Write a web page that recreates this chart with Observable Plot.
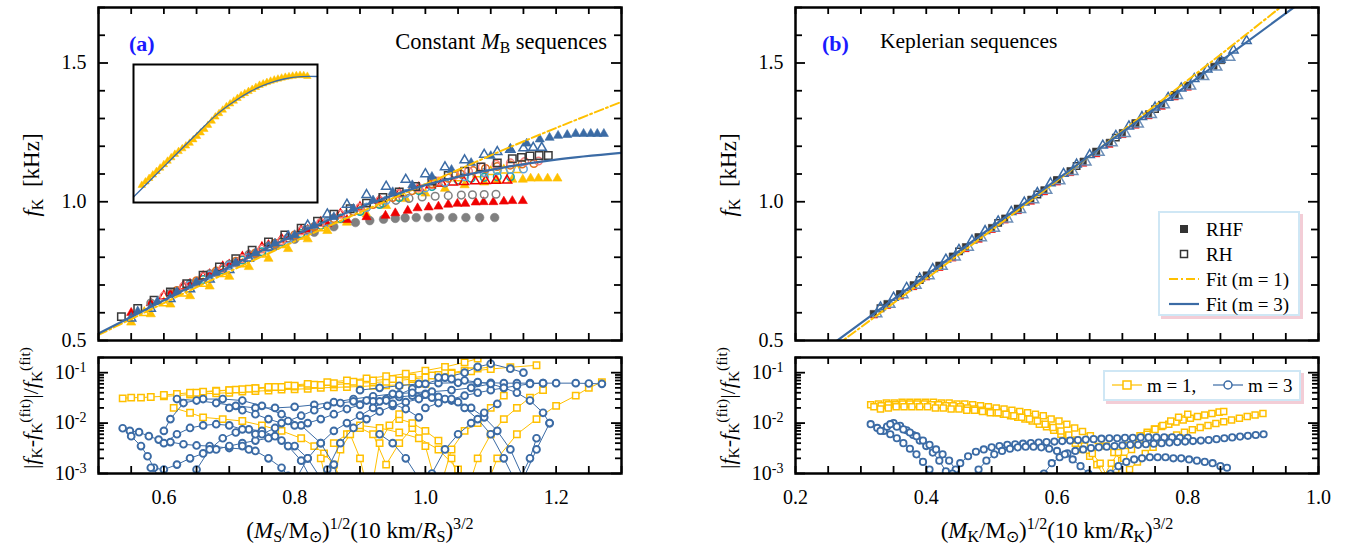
<!DOCTYPE html>
<html><head><meta charset="utf-8">
<script src="https://cdn.jsdelivr.net/npm/d3@7"></script>
<script src="https://cdn.jsdelivr.net/npm/@observablehq/plot@0.6"></script>
<style>
body{margin:0;background:#fff;}
#wrap{position:relative;width:1364px;height:550px;overflow:hidden;font-family:"Liberation Serif","Times New Roman",serif;color:#000;background:#fff;}
#wrap svg{position:absolute;left:0;top:0;}
.t{position:absolute;white-space:nowrap;line-height:1;font-size:22px;}
.rot{transform:translate(-50%,-50%) rotate(-90deg);}
.ctr{transform:translate(-50%,-50%);}
sub{font-size:0.7em;vertical-align:-0.28em;line-height:0;}
sup{font-size:0.7em;vertical-align:0.5em;line-height:0;}
.lab{font-weight:bold;color:#1a1aff;font-size:22px;}
.legend{position:absolute;border:2px solid #cfe7f5;box-shadow:3px 3px 0 #f3cdd6;background:#fff;}
.legend .it{position:absolute;white-space:nowrap;font-size:19px;line-height:1;}
</style></head>
<body><div id="wrap">
<div class="t lab" style="left:129px;top:33px;">(a)</div>
<div class="t" style="right:757px;top:31px;font-size:22.5px;">Constant <i>M</i><sub>B</sub> sequences</div>
<div class="t lab" style="left:822px;top:33px;">(b)</div>
<div class="t" style="left:880px;top:31px;font-size:21.5px;">Keplerian sequences</div>
<div class="t rot" style="left:31px;top:175px;font-size:23px;"><i>f</i><sub>K</sub>&nbsp; [kHz]</div>
<div class="t rot" style="left:728px;top:175px;font-size:23px;"><i>f</i><sub>K</sub>&nbsp; [kHz]</div>
<div class="t rot" style="left:31px;top:408px;font-size:22px;">|<i>f</i><sub>K</sub>-<i>f</i><sub>K</sub><sup>(fit)</sup>|/<i>f</i><sub>K</sub><sup>(fit)</sup></div>
<div class="t rot" style="left:728px;top:408px;font-size:22px;">|<i>f</i><sub>K</sub>-<i>f</i><sub>K</sub><sup>(fit)</sup>|/<i>f</i><sub>K</sub><sup>(fit)</sup></div>
<div class="t ctr" style="left:360px;top:530px;font-size:23px;">(<i>M</i><sub>S</sub>/M<sub>⊙</sub>)<sup>1/2</sup>(10 km/<i>R</i><sub>S</sub>)<sup>3/2</sup></div>
<div class="t ctr" style="left:1057px;top:530px;font-size:23px;">(<i>M</i><sub>K</sub>/M<sub>⊙</sub>)<sup>1/2</sup>(10 km/<i>R</i><sub>K</sub>)<sup>3/2</sup></div>
</div>
<script>
// ---------------- DATA ----------------
// Panel (a): constant baryon-mass sequences
const aBlueTriFilledX=[0.56,0.59,0.62,0.65,0.68,0.71,0.74,0.77,0.80,0.83,0.86,0.89,0.92,0.95,0.98,1.01,1.04,1.07,1.10,1.13,1.155,1.175,1.19,1.203,1.217,1.230,1.242,1.253,1.263,1.273];
const aBlueTriFilledY=[0.605,0.64,0.675,0.71,0.745,0.78,0.815,0.85,0.88,0.915,0.945,0.975,1.005,1.035,1.06,1.09,1.115,1.14,1.165,1.19,1.21,1.225,1.231,1.238,1.241,1.245,1.245,1.245,1.245,1.245];
const aBlueTriOpenX=[0.55,0.58,0.61,0.64,0.67,0.70,0.73,0.76,0.79,0.82,0.85,0.88,0.91,0.94,0.97,1.00,1.03,1.06,1.09,1.11,1.13,1.15,1.165,1.178];
const aBlueTriOpenY=[0.58,0.615,0.65,0.685,0.72,0.755,0.795,0.835,0.875,0.915,0.955,0.99,1.025,1.055,1.08,1.10,1.125,1.15,1.17,1.18,1.188,1.193,1.195,1.195];
const aBlackSqX=[0.535,0.56,0.585,0.61,0.635,0.66,0.685,0.71,0.735,0.76,0.785,0.81,0.835,0.86,0.885,0.91,0.935,0.96,0.985,1.01,1.035,1.06,1.085,1.11,1.133,1.147,1.16,1.174,1.188];
const aBlackSqY=[0.586,0.615,0.645,0.675,0.705,0.735,0.765,0.795,0.825,0.855,0.88,0.905,0.93,0.955,0.975,0.995,1.015,1.035,1.055,1.075,1.095,1.11,1.125,1.14,1.155,1.16,1.165,1.167,1.167];
const aSalmonX=[0.60,0.63,0.66,0.69,0.72,0.75,0.78,0.81,0.84,0.87,0.90,0.93,0.96,0.99,1.02,1.045,1.066,1.087,1.108,1.13,1.152,1.173];
const aSalmonY=[0.66,0.695,0.73,0.76,0.795,0.83,0.86,0.895,0.925,0.955,0.98,1.005,1.03,1.05,1.075,1.095,1.11,1.125,1.135,1.14,1.145,1.147];
const aOrangeX=[0.62,0.65,0.68,0.71,0.74,0.77,0.80,0.83,0.86,0.89,0.92,0.95,0.98,1.01,1.035,1.054,1.073,1.092,1.11,1.13,1.148,1.166];
const aOrangeY=[0.68,0.715,0.75,0.785,0.815,0.85,0.88,0.91,0.94,0.965,0.99,1.015,1.04,1.065,1.085,1.1,1.112,1.12,1.127,1.132,1.136,1.138];
const aLightBlueX=[0.64,0.67,0.70,0.73,0.76,0.79,0.82,0.85,0.88,0.91,0.94,0.97,1.00,1.03,1.06,1.09,1.11,1.13,1.15];
const aLightBlueY=[0.70,0.735,0.77,0.80,0.835,0.865,0.895,0.925,0.955,0.98,1.005,1.03,1.05,1.07,1.09,1.105,1.112,1.116,1.118];
const aYellowTriOpenX=[0.57,0.60,0.63,0.66,0.69,0.72,0.75,0.78,0.81,0.84,0.87,0.90,0.93,0.96,0.99,1.02,1.05,1.08,1.10,1.12,1.14];
const aYellowTriOpenY=[0.6,0.635,0.67,0.705,0.74,0.775,0.81,0.845,0.875,0.905,0.935,0.965,0.99,1.015,1.04,1.065,1.085,1.1,1.108,1.113,1.115];
const aTealX=[0.66,0.69,0.72,0.75,0.78,0.81,0.84,0.87,0.90,0.93,0.96,0.99,1.01,1.03,1.05,1.07,1.09,1.11,1.13];
const aTealY=[0.72,0.755,0.79,0.82,0.855,0.885,0.915,0.94,0.965,0.99,1.015,1.04,1.055,1.068,1.078,1.085,1.088,1.09,1.09];
const aYellowTriFilledX=[0.55,0.58,0.61,0.64,0.67,0.70,0.73,0.76,0.79,0.82,0.85,0.88,0.91,0.94,0.97,1.00,1.03,1.06,1.09,1.11,1.133,1.149,1.161,1.173,1.187,1.202];
const aYellowTriFilledY=[0.565,0.595,0.63,0.66,0.695,0.73,0.765,0.795,0.83,0.865,0.895,0.925,0.955,0.985,1.01,1.03,1.047,1.06,1.07,1.076,1.08,1.08,1.084,1.084,1.084,1.084];
const aRedTriOpenX=[0.60,0.63,0.66,0.69,0.72,0.75,0.78,0.81,0.84,0.87,0.90,0.93,0.96,0.99,1.008,1.025,1.042,1.059,1.076,1.092,1.108,1.125];
const aRedTriOpenY=[0.66,0.695,0.73,0.765,0.8,0.835,0.865,0.895,0.925,0.955,0.98,1.005,1.03,1.05,1.06,1.066,1.07,1.072,1.074,1.075,1.076,1.077];
const aGrayCircOpenX=[0.58,0.61,0.64,0.67,0.70,0.73,0.76,0.79,0.82,0.85,0.88,0.91,0.935,0.955,0.975,0.995,1.015,1.035,1.055,1.072,1.09,1.108];
const aGrayCircOpenY=[0.635,0.67,0.705,0.74,0.775,0.81,0.84,0.87,0.9,0.93,0.955,0.98,0.995,1.005,1.012,1.017,1.02,1.022,1.024,1.025,1.026,1.027];
const aRedTriFilledX=[0.55,0.58,0.61,0.64,0.67,0.70,0.73,0.76,0.79,0.82,0.85,0.88,0.91,0.939,0.954,0.973,0.988,1.005,1.020,1.035,1.049,1.061,1.077,1.089,1.104,1.120,1.133,1.149];
const aRedTriFilledY=[0.6,0.635,0.67,0.705,0.74,0.775,0.81,0.845,0.875,0.9,0.92,0.935,0.945,0.950,0.959,0.968,0.977,0.980,0.983,0.990,0.993,0.993,0.998,0.999,0.999,1.001,1.003,1.003];
const aGrayCircFilledX=[0.62,0.65,0.68,0.71,0.74,0.77,0.80,0.83,0.86,0.893,0.915,0.936,0.954,0.969,0.986,1.004,1.022,1.042,1.062,1.083,1.106];
const aGrayCircFilledY=[0.675,0.71,0.745,0.78,0.81,0.84,0.865,0.89,0.91,0.925,0.932,0.937,0.94,0.942,0.943,0.943,0.943,0.943,0.943,0.943,0.943];
// Fits, panel (a)
const aFit3X=[0.5,0.6,0.7,0.8,0.9,1.0,1.1,1.2,1.3];
const aFit3Y=[0.525,0.645,0.765,0.88,0.98,1.06,1.115,1.152,1.176];
const aFit1X=[0.5,0.6,0.7,0.8,0.9,1.0,1.1,1.2,1.3];
const aFit1Y=[0.52,0.635,0.748,0.857,0.962,1.063,1.167,1.266,1.36];
// Inset (normalised units)
const insetLineU=[0,0.09,0.18,0.27,0.36,0.45,0.545,0.636,0.727,0.818,0.91,1.0];
const insetLineV=[0.04,0.16,0.28,0.40,0.52,0.635,0.73,0.805,0.86,0.895,0.912,0.913];
const insetTriU=[0.045,0.065,0.085,0.105,0.125,0.145,0.165,0.185,0.205,0.225,0.245,0.265,0.285,0.305,0.325,0.345,0.365,0.385,0.405,0.425,0.445,0.465,0.485,0.505,0.525,0.545,0.565,0.585,0.605,0.625,0.645,0.665,0.685,0.705,0.725,0.745,0.765,0.785,0.805,0.825,0.845,0.865,0.885,0.905,0.925,0.945];
const insetTriV=[0.125,0.15,0.175,0.2,0.225,0.25,0.275,0.3,0.325,0.35,0.37,0.39,0.41,0.43,0.455,0.48,0.505,0.53,0.56,0.59,0.62,0.645,0.67,0.695,0.715,0.735,0.755,0.775,0.79,0.805,0.82,0.835,0.85,0.86,0.87,0.88,0.888,0.895,0.902,0.908,0.912,0.916,0.92,0.922,0.92,0.915];
// Residuals (a), m = 1
const rA1_1X=[0.537,0.55,0.565,0.58,0.6,0.62,0.64,0.66,0.68,0.70,0.72,0.74,0.76,0.78,0.80,0.82,0.84,0.86,0.88,0.90,0.92,0.94,0.96,0.98,1.0];
const rA1_1Y=[0.031,0.032,0.032,0.033,0.034,0.035,0.037,0.038,0.039,0.04,0.042,0.043,0.044,0.046,0.047,0.048,0.05,0.051,0.052,0.053,0.055,0.056,0.057,0.058,0.06];
const rA1_2X=[0.6,0.62,0.64,0.66,0.68,0.70,0.72,0.74,0.76,0.78,0.80,0.82,0.84,0.86,0.88,0.90,0.92,0.94,0.96,0.98,1.0,1.02,1.04,1.06,1.08,1.1];
const rA1_2Y=[0.036,0.038,0.04,0.042,0.044,0.045,0.047,0.049,0.05,0.052,0.053,0.055,0.057,0.058,0.06,0.062,0.064,0.066,0.07,0.075,0.08,0.09,0.1,0.11,0.12,0.13];
const rA1_3X=[0.65,0.68,0.71,0.74,0.77,0.80,0.83,0.86,0.89,0.92,0.95,0.98,1.01,1.04,1.07,1.10,1.13,1.17];
const rA1_3Y=[0.04,0.043,0.046,0.049,0.052,0.055,0.058,0.062,0.066,0.07,0.075,0.08,0.088,0.097,0.107,0.118,0.128,0.14];
const rA1_4X=[0.70,0.73,0.76,0.79,0.82,0.85,0.88,0.91,0.94,0.97,1.0,1.03,1.06,1.08];
const rA1_4Y=[0.045,0.048,0.052,0.056,0.06,0.065,0.07,0.077,0.085,0.095,0.11,0.13,0.16,0.19];
const rA1_5X=[0.615,0.64,0.66,0.69,0.72,0.75,0.78,0.81,0.83,0.845,0.86,0.875];
const rA1_5Y=[0.02,0.016,0.013,0.012,0.011,0.009,0.007,0.005,0.0035,0.0025,0.0015,0.0006];
const rA1_6X=[0.86,0.88,0.9,0.92,0.94,0.96,0.98,1.0,1.02,1.04,1.06,1.08,1.1,1.12];
const rA1_6Y=[0.004,0.006,0.008,0.006,0.0015,0.004,0.008,0.0035,0.0004,0.003,0.007,0.01,0.02,0.035];
const rA1_7X=[0.9,0.93,0.96,0.99,1.02,1.05,1.08,1.11,1.14,1.17,1.2,1.23,1.25,1.27];
const rA1_7Y=[0.009,0.008,0.0065,0.005,0.003,0.0012,0.0002,0.002,0.006,0.012,0.022,0.035,0.05,0.065];
const rA1_8X=[0.96,0.98,1.0,1.02,1.04,1.06,1.08,1.1,1.12,1.14,1.16,1.18];
const rA1_8Y=[0.012,0.01,0.007,0.0045,0.002,0.0003,0.002,0.006,0.012,0.02,0.032,0.045];
const rA1_9X=[0.84,0.855,0.87,0.885,0.9,0.915,0.93,0.945,0.96];
const rA1_9Y=[0.002,0.0003,0.003,0.006,0.002,0.0003,0.004,0.009,0.015];
// Residuals (a), m = 3
const rA3_1X=[0.537,0.548,0.562,0.577,0.592,0.61,0.63,0.65,0.67,0.70,0.73];
const rA3_1Y=[0.0079,0.007,0.0066,0.0055,0.0047,0.0042,0.0038,0.0036,0.0035,0.0032,0.003];
const rA3_2X=[0.55,0.565,0.575,0.585,0.595];
const rA3_2Y=[0.0055,0.0035,0.0022,0.0013,0.0006];
const rA3_3X=[0.58,0.6,0.62,0.64,0.66,0.68,0.7,0.72,0.74,0.76,0.78,0.8,0.82,0.84];
const rA3_3Y=[0.0013,0.0012,0.0015,0.002,0.0025,0.003,0.0035,0.004,0.0045,0.005,0.0045,0.0035,0.002,0.0008];
const rA3_4X=[0.6,0.61,0.63,0.66,0.69,0.72,0.75,0.78,0.81,0.84,0.86,0.87];
const rA3_4Y=[0.007,0.012,0.025,0.03,0.03,0.028,0.022,0.015,0.009,0.004,0.0015,0.0005];
const rA3_5X=[0.62,0.65,0.68,0.71,0.74,0.77,0.80,0.83,0.86,0.89,0.92,0.95,0.98,1.01,1.04,1.07,1.1];
const rA3_5Y=[0.03,0.028,0.025,0.022,0.02,0.02,0.021,0.023,0.026,0.03,0.034,0.038,0.04,0.042,0.045,0.05,0.06];
const rA3_6X=[0.65,0.67,0.69,0.71,0.73,0.75,0.77,0.79,0.81,0.83];
const rA3_6Y=[0.0012,0.003,0.005,0.0065,0.0075,0.007,0.0055,0.0035,0.0018,0.0006];
const rA3_7X=[0.7,0.72,0.74,0.76,0.78,0.8,0.82,0.84,0.86,0.88,0.9,0.92,0.94,0.96,0.98,1.0];
const rA3_7Y=[0.02,0.018,0.015,0.012,0.01,0.009,0.01,0.012,0.015,0.019,0.023,0.027,0.03,0.033,0.035,0.038];
const rA3_8X=[0.8,0.82,0.84,0.86,0.88,0.9,0.92,0.94,0.96,0.98,1.0,1.03,1.06,1.08,1.1,1.13,1.15];
const rA3_8Y=[0.0007,0.002,0.004,0.007,0.01,0.014,0.02,0.028,0.037,0.048,0.06,0.08,0.1,0.13,0.15,0.12,0.1];
const rA3_9X=[0.85,0.87,0.89,0.91,0.93,0.95,0.97,0.99,1.01,1.03,1.05,1.07,1.09,1.11,1.13,1.15,1.17,1.19];
const rA3_9Y=[0.0012,0.004,0.008,0.012,0.017,0.022,0.026,0.03,0.032,0.03,0.026,0.02,0.013,0.007,0.003,0.0008,0.003,0.01];
const rA3_10X=[0.9,0.93,0.96,0.99,1.02,1.05,1.08,1.1,1.12,1.14,1.16,1.18,1.2,1.23,1.25,1.27];
const rA3_10Y=[0.045,0.05,0.055,0.06,0.062,0.063,0.063,0.063,0.062,0.062,0.062,0.062,0.062,0.062,0.061,0.06];
const rA3_11X=[0.93,0.95,0.97,0.99,1.0,1.01,1.03,1.05,1.07,1.09,1.11];
const rA3_11Y=[0.006,0.004,0.002,0.0008,0.0003,0.001,0.003,0.006,0.01,0.016,0.024];
const rA3_12X=[0.98,1.0,1.02,1.04,1.06,1.08,1.1,1.12,1.14,1.16,1.17];
const rA3_12Y=[0.04,0.037,0.033,0.028,0.02,0.012,0.006,0.002,0.0006,0.002,0.005];
const rA3_13X=[0.72,0.74,0.76,0.78,0.79,0.8,0.81];
const rA3_13Y=[0.0035,0.0028,0.002,0.0013,0.0009,0.0005,0.0003];
const rA3_14X=[1.0,1.02,1.04,1.06,1.08,1.1,1.12,1.14,1.16,1.18];
const rA3_14Y=[0.02,0.025,0.03,0.035,0.04,0.045,0.05,0.055,0.06,0.062];
const rA3_15X=[0.6,0.62,0.64,0.66,0.68,0.7,0.72,0.74];
const rA3_15Y=[0.004,0.006,0.008,0.009,0.0095,0.009,0.0075,0.006];
const rA3_16X=[0.75,0.77,0.79,0.81,0.83,0.85,0.87,0.89,0.91,0.93,0.95,0.97,0.99];
const rA3_16Y=[0.006,0.008,0.011,0.014,0.018,0.022,0.025,0.027,0.028,0.027,0.024,0.019,0.013];
const rA3_17X=[1.02,1.04,1.06,1.08,1.1,1.12,1.14,1.16,1.18,1.19];
const rA3_17Y=[0.08,0.075,0.07,0.065,0.06,0.05,0.04,0.028,0.016,0.01];
// Panel (b): Keplerian sequences
const bRHFX=[0.319,0.34,0.36,0.38,0.40,0.42,0.44,0.46,0.48,0.50,0.52,0.54,0.56,0.58,0.60,0.62,0.64,0.66,0.68,0.70,0.72,0.74,0.76,0.78,0.80,0.82,0.84,0.852];
const bRHFY=[0.597,0.633,0.667,0.701,0.736,0.77,0.804,0.838,0.872,0.907,0.941,0.975,1.009,1.043,1.078,1.112,1.146,1.18,1.214,1.249,1.283,1.317,1.351,1.385,1.42,1.454,1.488,1.509];
const bRHX=[0.33,0.36,0.39,0.42,0.45,0.48,0.51,0.54,0.57,0.60,0.63,0.66,0.69,0.72,0.75,0.78];
const bRHY=[0.616,0.667,0.718,0.77,0.821,0.872,0.924,0.975,1.026,1.078,1.129,1.18,1.231,1.283,1.334,1.385];
const bBlueTriX=[0.33,0.35,0.37,0.39,0.41,0.43,0.45,0.47,0.49,0.51,0.53,0.55,0.57,0.59,0.61,0.63,0.65,0.67,0.69,0.71,0.73,0.75,0.77,0.79,0.81,0.83,0.85,0.87,0.89];
const bBlueTriY=[0.62,0.655,0.69,0.724,0.758,0.792,0.827,0.861,0.895,0.93,0.964,0.998,1.032,1.067,1.101,1.135,1.169,1.203,1.238,1.272,1.306,1.34,1.375,1.409,1.443,1.477,1.512,1.546,1.58];
const bSteelTriX=[0.325,0.345,0.365,0.385,0.405,0.425,0.445,0.465,0.485,0.505,0.525,0.545,0.565,0.585,0.605,0.625,0.645,0.665,0.685,0.705,0.725,0.745,0.765,0.785,0.805,0.825,0.845,0.865];
const bSteelTriY=[0.595,0.629,0.664,0.698,0.732,0.766,0.8,0.835,0.869,0.903,0.937,0.971,1.006,1.04,1.074,1.108,1.142,1.177,1.211,1.245,1.279,1.313,1.348,1.382,1.416,1.45,1.484,1.519];
const bRedX=[0.32,0.34,0.36,0.38,0.40,0.42,0.44,0.46,0.48,0.50,0.52,0.54,0.56,0.58,0.60,0.62,0.64,0.66,0.68,0.70,0.72,0.74,0.76,0.78,0.80];
const bRedY=[0.589,0.623,0.657,0.691,0.726,0.76,0.794,0.828,0.862,0.897,0.931,0.965,0.999,1.033,1.068,1.102,1.136,1.17,1.204,1.239,1.273,1.307,1.341,1.375,1.41];
const bFit3X=[0.25,0.45,0.65,0.85,0.99];
const bFit3Y=[0.476,0.822,1.166,1.506,1.748];
const bFit1X=[0.26,0.45,0.65,0.85,0.96];
const bFit1Y=[0.478,0.81,1.165,1.53,1.735];
// Residuals (b)
const rB1_1X=[0.315,0.327,0.339,0.351,0.363,0.375,0.387,0.399,0.411,0.423,0.435,0.447,0.459,0.471,0.483,0.495,0.507,0.519,0.531,0.543,0.555,0.567,0.579,0.591,0.603,0.615,0.627,0.639,0.651,0.663,0.675,0.687,0.699,0.711,0.723,0.735,0.747,0.759,0.771,0.783,0.795,0.807,0.819,0.831,0.843,0.855,0.867,0.879,0.891,0.903,0.915];
const rB1_1Y=[0.023,0.024,0.025,0.025,0.026,0.026,0.026,0.026,0.026,0.025,0.025,0.024,0.024,0.023,0.022,0.021,0.02,0.019,0.018,0.017,0.016,0.015,0.014,0.012,0.011,0.0095,0.008,0.0068,0.0056,0.0045,0.0035,0.0026,0.0018,0.0012,0.0017,0.0025,0.0033,0.0042,0.005,0.0058,0.0066,0.0074,0.0082,0.009,0.0098,0.0106,0.0115,0.0125,0.0135,0.0145,0.0155];
const rB1_2X=[0.32,0.331,0.342,0.353,0.364,0.375,0.386,0.397,0.408,0.419,0.43,0.441,0.452,0.463,0.474,0.485,0.496,0.507,0.518,0.529,0.54,0.551,0.562,0.573,0.584,0.595,0.606,0.617,0.628,0.639,0.65,0.661,0.672,0.683,0.694,0.705,0.716,0.727,0.738,0.749,0.76,0.771,0.782,0.793,0.804,0.815,0.826,0.837,0.848,0.855];
const rB1_2Y=[0.021,0.022,0.023,0.023,0.024,0.024,0.024,0.024,0.023,0.023,0.022,0.022,0.021,0.02,0.019,0.018,0.017,0.016,0.015,0.014,0.013,0.012,0.011,0.0095,0.0085,0.0072,0.006,0.005,0.004,0.003,0.0022,0.0015,0.0009,0.0016,0.0026,0.0036,0.0046,0.0056,0.0066,0.0076,0.0086,0.0095,0.0105,0.0115,0.0125,0.0135,0.0145,0.0155,0.0165,0.017];
const rB1_3X=[0.33,0.342,0.354,0.366,0.378,0.39,0.402,0.414,0.426,0.438,0.45,0.462,0.474,0.486,0.498,0.51,0.522,0.534,0.546,0.558,0.57,0.582,0.594,0.606,0.618,0.63,0.642,0.654,0.666,0.678,0.69,0.702,0.714,0.726,0.738,0.75,0.762,0.774,0.786,0.8];
const rB1_3Y=[0.019,0.02,0.021,0.021,0.021,0.021,0.021,0.02,0.02,0.019,0.019,0.018,0.018,0.017,0.016,0.016,0.015,0.014,0.013,0.012,0.011,0.0095,0.0082,0.007,0.0058,0.0046,0.0035,0.0025,0.0016,0.0008,0.0012,0.002,0.003,0.0045,0.006,0.0075,0.009,0.011,0.013,0.015];
const rB3_1X=[0.315,0.325,0.335,0.345,0.355,0.365,0.375,0.385,0.395,0.405,0.415];
const rB3_1Y=[0.0095,0.008,0.007,0.006,0.005,0.004,0.0031,0.0024,0.0017,0.0012,0.0008];
const rB3_2X=[0.33,0.34,0.35,0.36,0.37,0.38,0.39,0.4,0.41,0.42,0.43];
const rB3_2Y=[0.007,0.0085,0.01,0.0088,0.0072,0.0058,0.0045,0.0035,0.0026,0.0018,0.0011];
const rB3_3X=[0.345,0.355,0.365,0.375,0.385,0.395,0.405,0.415,0.425,0.435,0.445,0.455];
const rB3_3Y=[0.0095,0.0085,0.0075,0.0065,0.0055,0.0045,0.0037,0.003,0.0024,0.0018,0.0012,0.0008];
const rB3_4X=[0.44,0.452,0.464,0.476,0.488,0.5,0.512,0.524,0.536,0.548,0.56,0.572,0.584,0.596,0.608,0.62,0.632,0.644,0.656,0.668,0.68,0.692,0.704,0.716,0.728,0.74,0.752,0.764,0.776,0.788,0.8];
const rB3_4Y=[0.001,0.0016,0.0022,0.0027,0.003,0.0033,0.0035,0.0037,0.0038,0.0039,0.004,0.0041,0.0042,0.0043,0.0044,0.0045,0.0046,0.0047,0.0048,0.0049,0.005,0.005,0.0051,0.0051,0.0052,0.0052,0.0052,0.0052,0.0052,0.0051,0.0051];
const rB3_5X=[0.58,0.592,0.604,0.616,0.628,0.64,0.652,0.664,0.676,0.688,0.7,0.712,0.724,0.736,0.748,0.76,0.772,0.784,0.796,0.808,0.82,0.832,0.844,0.856,0.868,0.88,0.892,0.904,0.916];
const rB3_5Y=[0.001,0.0016,0.0021,0.0025,0.0028,0.003,0.0032,0.0033,0.0034,0.0035,0.0036,0.0037,0.0037,0.0038,0.0039,0.004,0.0041,0.0042,0.0043,0.0044,0.0045,0.0046,0.0048,0.005,0.0052,0.0054,0.0056,0.0058,0.006];
const rB3_6X=[0.67,0.682,0.694,0.706,0.718,0.73,0.742,0.754,0.766,0.778,0.79,0.802,0.814,0.826,0.838,0.85,0.86];
const rB3_6Y=[0.0006,0.001,0.0014,0.0017,0.0019,0.002,0.0021,0.0021,0.0021,0.002,0.002,0.0019,0.0018,0.0017,0.0016,0.0014,0.0013];
const rB3_7X=[0.48,0.492,0.504,0.516,0.528,0.54,0.552,0.564,0.576,0.588,0.6,0.612,0.624,0.636,0.648,0.66];
const rB3_7Y=[0.0012,0.0018,0.0024,0.0028,0.0031,0.0033,0.0034,0.0034,0.0033,0.0031,0.0028,0.0024,0.0019,0.0014,0.001,0.0006];
// Axis ticks
const xTicksA=[0.5,0.55,0.6,0.65,0.7,0.75,0.8,0.85,0.9,0.95,1.0,1.05,1.1,1.15,1.2,1.25,1.3];
const xLabelsA=[0.6,0.8,1.0,1.2];
const xTicksB=[0.2,0.25,0.3,0.35,0.4,0.45,0.5,0.55,0.6,0.65,0.7,0.75,0.8,0.85,0.9,0.95,1.0];
const xLabelsB=[0.2,0.4,0.6,0.8,1.0];
const yTicksTopMinor=[0.6,0.7,0.8,0.9,1.1,1.2,1.3,1.4,1.6,1.7];
const yTicksTopMajor=[0.5,1.0,1.5];
const yLogMajor=[0.001,0.01,0.1];
const yLogMinor=[0.002,0.003,0.004,0.005,0.006,0.007,0.008,0.009,0.02,0.03,0.04,0.05,0.06,0.07,0.08,0.09,0.2];

// ---------------- STYLE / LAYOUT ----------------
const W=1364,H=550;
const BLUE="#3b6ba5",YEL="#ffc000",RED="#f00000",GRAY="#808080",TEAL="#17a2a2",ORANGE="#e0701c",SALMON="#f47c7c",LBLUE="#5fa2dd",BLACK="#3a3a3a",STEEL="#6d8fb8";
const STYLE="background: transparent; font: 20px 'Liberation Serif', 'Times New Roman', serif; overflow: visible;";
const FR_TL=[98,621,7,340], FR_BL=[98,621,357,473], FR_TR=[795,1318,7,340], FR_BR=[795,1318,357,473], FR_IN=[133,317,64,202];

const rows=(xs,ys,id)=>xs.map((x,i)=>({x,y:ys[i],id}));

function ticks(fr,xT,yMaj,yMin,yMajLen,yMinLen){
  const fw=fr[1]-fr[0], fh=fr[3]-fr[2], s={stroke:"black",strokeWidth:1.8};
  return [
    Plot.tickX(xT,{x:d=>d,insetTop:fh-7,...s}),
    Plot.tickX(xT,{x:d=>d,insetBottom:fh-7,...s}),
    Plot.tickY(yMaj,{y:d=>d,insetRight:fw-yMajLen,...s}),
    Plot.tickY(yMaj,{y:d=>d,insetLeft:fw-yMajLen,...s}),
    Plot.tickY(yMin,{y:d=>d,insetRight:fw-yMinLen,...s}),
    Plot.tickY(yMin,{y:d=>d,insetLeft:fw-yMinLen,...s})
  ];
}
function mk(fr,xd,yd,ytype,marks){
  return Plot.plot({width:W,height:H,marginLeft:fr[0],marginRight:W-fr[1],marginTop:fr[2],marginBottom:H-fr[3],
    x:{domain:xd,axis:null,label:null},y:{domain:yd,type:ytype,axis:null,label:null},style:STYLE,marks});
}
const dot=(xs,ys,sym,col,filled,r)=>Plot.dot(rows(xs,ys),{x:"x",y:"y",symbol:sym,r,fill:filled?col:"none",stroke:col,strokeWidth:filled?0.6:1.5,clip:true});

// ---- panel (a) top
const aMarks=[
  dot(aYellowTriFilledX,aYellowTriFilledY,"triangle",YEL,true,3.4),
  dot(aYellowTriOpenX,aYellowTriOpenY,"triangle",YEL,false,3.4),
  dot(aGrayCircFilledX,aGrayCircFilledY,"circle",GRAY,true,4.3),
  dot(aRedTriFilledX,aRedTriFilledY,"triangle",RED,true,3.4),
  dot(aGrayCircOpenX,aGrayCircOpenY,"circle",GRAY,false,3.8),
  dot(aTealX,aTealY,"circle",TEAL,false,3.8),
  dot(aRedTriOpenX,aRedTriOpenY,"triangle",RED,false,3.4),
  dot(aLightBlueX,aLightBlueY,"circle",LBLUE,false,3.8),
  dot(aOrangeX,aOrangeY,"circle",ORANGE,false,3.8),
  dot(aSalmonX,aSalmonY,"circle",SALMON,false,3.8),
  dot(aBlackSqX,aBlackSqY,"square",BLACK,false,4.2),
  dot(aBlueTriOpenX,aBlueTriOpenY,"triangle",BLUE,false,3.4),
  dot(aBlueTriFilledX,aBlueTriFilledY,"triangle",BLUE,true,3.4),
  Plot.line(rows(aFit1X,aFit1Y),{x:"x",y:"y",stroke:YEL,strokeWidth:2,strokeDasharray:"9,3,2,3",curve:"natural",clip:true}),
  Plot.line(rows(aFit3X,aFit3Y),{x:"x",y:"y",stroke:BLUE,strokeWidth:2.2,curve:"natural",clip:true}),
  ...ticks(FR_TL,xTicksA,yTicksTopMajor,yTicksTopMinor,10,7),
  Plot.frame({stroke:"black",strokeWidth:2.5}),
  Plot.axisY(yTicksTopMajor,{anchor:"left",label:null,tickSize:0,tickPadding:12,tickFormat:d3.format(".1f"),fontSize:20})
];
const pTL=mk(FR_TL,[0.5,1.3],[0.5,1.7],"linear",aMarks);

// ---- inset
const pIN=mk(FR_IN,[0,1],[0,1],"linear",[
  Plot.dot(rows(insetTriU,insetTriV),{x:"x",y:"y",symbol:"triangle",r:2.8,fill:YEL,stroke:YEL,strokeWidth:0.5}),
  Plot.line(rows(insetLineU,insetLineV),{x:"x",y:"y",stroke:BLUE,strokeWidth:1.3,curve:"natural"}),
  Plot.frame({stroke:"black",strokeWidth:2})
]);

// residual helper
function resid(list,col,sym,r,sw){
  const data=list.flatMap((s,i)=>rows(s[0],s[1],i));
  return [
    Plot.line(data,{x:"x",y:"y",z:"id",stroke:col,strokeWidth:1,clip:true}),
    Plot.dot(data,{x:"x",y:"y",symbol:sym,r,fill:"white",stroke:col,strokeWidth:sw,clip:true})
  ];
}
function logLabels(svg){
  svg.querySelectorAll('[aria-label="y-axis tick label"] text').forEach(t=>{
    const e=t.textContent; t.textContent="10";
    const s=document.createElementNS("http://www.w3.org/2000/svg","tspan");
    s.setAttribute("dy","-0.5em"); s.setAttribute("font-size","14"); s.textContent=e; t.appendChild(s);
  });
}

// ---- panel (a) bottom
const rA1=[[rA1_1X,rA1_1Y],[rA1_2X,rA1_2Y],[rA1_3X,rA1_3Y],[rA1_4X,rA1_4Y],[rA1_5X,rA1_5Y],[rA1_6X,rA1_6Y],[rA1_7X,rA1_7Y],[rA1_8X,rA1_8Y],[rA1_9X,rA1_9Y]];
const rA3=[[rA3_1X,rA3_1Y],[rA3_2X,rA3_2Y],[rA3_3X,rA3_3Y],[rA3_4X,rA3_4Y],[rA3_5X,rA3_5Y],[rA3_6X,rA3_6Y],[rA3_7X,rA3_7Y],[rA3_8X,rA3_8Y],[rA3_9X,rA3_9Y],[rA3_10X,rA3_10Y],[rA3_11X,rA3_11Y],[rA3_12X,rA3_12Y],[rA3_13X,rA3_13Y],[rA3_14X,rA3_14Y],[rA3_15X,rA3_15Y],[rA3_16X,rA3_16Y],[rA3_17X,rA3_17Y]];
const expFmt=d=>String(Math.round(Math.log10(d)));
const pBL=mk(FR_BL,[0.5,1.3],[0.001,0.2],"log",[
  ...resid(rA1,YEL,"square",3.6,1.5),
  ...resid(rA3,BLUE,"circle",3.4,1.9),
  ...ticks(FR_BL,xTicksA,yLogMajor,yLogMinor,10,6),
  Plot.frame({stroke:"black",strokeWidth:2.5}),
  Plot.axisY(yLogMajor,{anchor:"left",label:null,tickSize:0,tickPadding:12,tickFormat:expFmt,fontSize:20}),
  Plot.axisX(xLabelsA,{anchor:"bottom",label:null,tickSize:0,tickPadding:16,tickFormat:d3.format(".1f"),fontSize:20})
]);
logLabels(pBL);

// ---- panel (b) top
const pTR=mk(FR_TR,[0.2,1.0],[0.5,1.7],"linear",[
  dot(bRedX,bRedY,"triangle",RED,true,2.8),
  dot(bRHFX,bRHFY,"square",BLACK,true,3.6),
  dot(bRHX,bRHY,"square",BLACK,false,3.6),
  dot(bSteelTriX,bSteelTriY,"triangle",STEEL,false,3.4),
  dot(bBlueTriX,bBlueTriY,"triangle",BLUE,false,3.4),
  Plot.line(rows(bFit1X,bFit1Y),{x:"x",y:"y",stroke:YEL,strokeWidth:2,strokeDasharray:"9,3,2,3",curve:"natural",clip:true}),
  Plot.line(rows(bFit3X,bFit3Y),{x:"x",y:"y",stroke:BLUE,strokeWidth:2.2,curve:"natural",clip:true}),
  ...ticks(FR_TR,xTicksB,yTicksTopMajor,yTicksTopMinor,10,7),
  Plot.frame({stroke:"black",strokeWidth:2.5}),
  Plot.axisY(yTicksTopMajor,{anchor:"left",label:null,tickSize:0,tickPadding:12,tickFormat:d3.format(".1f"),fontSize:20})
]);

// ---- panel (b) bottom
const rB1=[[rB1_1X,rB1_1Y],[rB1_2X,rB1_2Y],[rB1_3X,rB1_3Y]];
const rB3=[[rB3_1X,rB3_1Y],[rB3_2X,rB3_2Y],[rB3_3X,rB3_3Y],[rB3_4X,rB3_4Y],[rB3_5X,rB3_5Y],[rB3_6X,rB3_6Y],[rB3_7X,rB3_7Y]];
const pBR=mk(FR_BR,[0.2,1.0],[0.001,0.2],"log",[
  ...resid(rB1,YEL,"square",3.4,1.5),
  ...resid(rB3,BLUE,"circle",3.2,1.8),
  ...ticks(FR_BR,xTicksB,yLogMajor,yLogMinor,10,6),
  Plot.frame({stroke:"black",strokeWidth:2.5}),
  Plot.axisY(yLogMajor,{anchor:"left",label:null,tickSize:0,tickPadding:12,tickFormat:expFmt,fontSize:20}),
  Plot.axisX(xLabelsB,{anchor:"bottom",label:null,tickSize:0,tickPadding:16,tickFormat:d3.format(".1f"),fontSize:20})
]);
logLabels(pBR);

const wrap=document.getElementById("wrap");
[pTL,pIN,pBL,pTR,pBR].forEach(p=>wrap.appendChild(p));

// ---- legends (HTML)
function sym(kind,col){
  if(kind==="sqF") return `<svg width="12" height="12"><rect x="2" y="2" width="8" height="8" fill="${col}"/></svg>`;
  if(kind==="sqO") return `<svg width="12" height="12"><rect x="2.5" y="2.5" width="7" height="7" fill="none" stroke="${col}" stroke-width="1.5"/></svg>`;
  if(kind==="dash") return `<svg width="30" height="6"><line x1="0" y1="3" x2="30" y2="3" stroke="${col}" stroke-width="2" stroke-dasharray="9,3,2,3"/></svg>`;
  if(kind==="solid") return `<svg width="30" height="6"><line x1="0" y1="3" x2="30" y2="3" stroke="${col}" stroke-width="2.2"/></svg>`;
  if(kind==="lineSq") return `<svg width="30" height="12"><line x1="0" y1="6" x2="30" y2="6" stroke="${col}" stroke-width="1.2"/><rect x="11" y="2" width="8" height="8" fill="white" stroke="${col}" stroke-width="1.5"/></svg>`;
  if(kind==="lineCi") return `<svg width="30" height="12"><line x1="0" y1="6" x2="30" y2="6" stroke="${col}" stroke-width="1.2"/><circle cx="15" cy="6" r="4" fill="white" stroke="${col}" stroke-width="1.5"/></svg>`;
}
const leg1=document.createElement("div");
leg1.className="legend";
leg1.style.cssText="left:1158px;top:211px;width:138px;height:101px;";
leg1.innerHTML=`
 <div class="it" style="left:18px;top:10px;">${sym("sqF","#333")}</div><div class="it" style="left:46px;top:7px;">RHF</div>
 <div class="it" style="left:18px;top:35px;">${sym("sqO","#333")}</div><div class="it" style="left:46px;top:32px;">RH</div>
 <div class="it" style="left:9px;top:63px;">${sym("dash",YEL)}</div><div class="it" style="left:46px;top:57px;">Fit (m = 1)</div>
 <div class="it" style="left:9px;top:88px;">${sym("solid",BLUE)}</div><div class="it" style="left:46px;top:82px;">Fit (m = 3)</div>`;
wrap.appendChild(leg1);
const leg2=document.createElement("div");
leg2.className="legend";
leg2.style.cssText="left:1103px;top:370px;width:194px;height:27px;";
leg2.innerHTML=`
 <div class="it" style="left:7px;top:7px;">${sym("lineSq",YEL)}</div><div class="it" style="left:42px;top:4px;">m = 1,</div>
 <div class="it" style="left:108px;top:7px;">${sym("lineCi",BLUE)}</div><div class="it" style="left:143px;top:4px;">m = 3</div>`;
wrap.appendChild(leg2);
</script>
</body></html>
